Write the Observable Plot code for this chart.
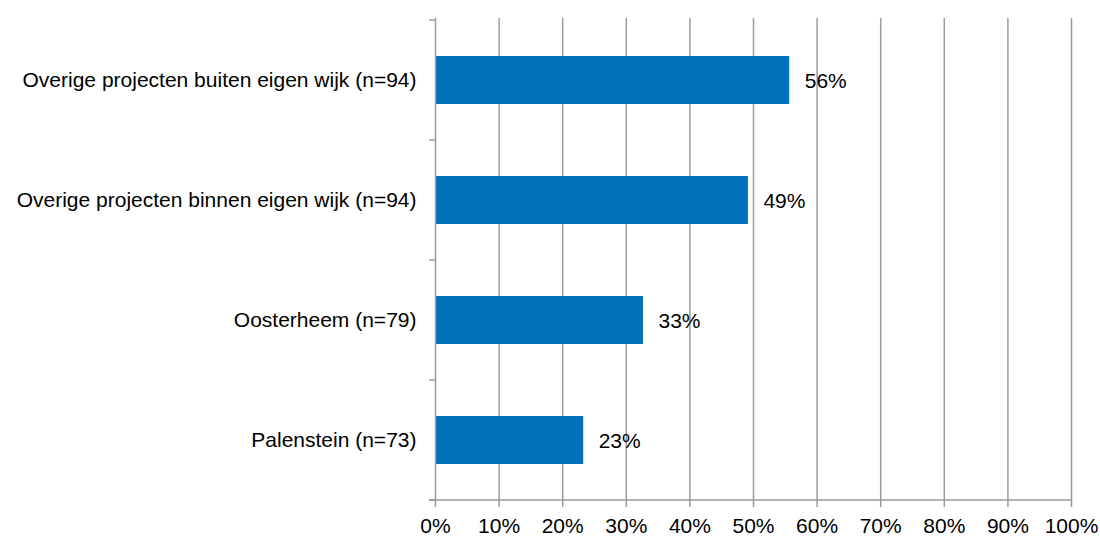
<!DOCTYPE html>
<html>
<head>
<meta charset="utf-8">
<script src="https://cdn.jsdelivr.net/npm/d3@7"></script>
<script src="https://cdn.jsdelivr.net/npm/@observablehq/plot@0.6"></script>
<style>
  html, body { margin: 0; padding: 0; background: #fff; }
  #chart { width: 1100px; height: 536px; }
  svg { font-family: "Liberation Sans", Arial, sans-serif; }
</style>
</head>
<body>
<div id="chart"></div>
<script>
const categories = [
  "Overige projecten buiten eigen wijk (n=94)",
  "Overige projecten binnen eigen wijk (n=94)",
  "Oosterheem (n=79)",
  "Palenstein (n=73)"
];
const values = [55.7, 49.2, 32.7, 23.3];
const valueLabels = ["56%", "49%", "33%", "23%"];
const xTicks = [0, 10, 20, 30, 40, 50, 60, 70, 80, 90, 100];

const data = categories.map((c, i) => ({category: c, value: values[i], label: valueLabels[i]}));

const gridColor = "#9a9a9a";
const barColor = "#0071bb";
const fs = 21;

const chart = Plot.plot({
  width: 1100,
  height: 536,
  marginLeft: 435,
  marginRight: 29,
  marginTop: 18,
  marginBottom: 35,
  style: {fontSize: fs + "px", fontFamily: "'Liberation Sans', Arial, sans-serif", color: "#000", background: "#fff", overflow: "visible"},
  x: {domain: [0, 100], ticks: xTicks},
  y: {domain: categories, paddingInner: 0.6, paddingOuter: 0.3},
  marks: [
    Plot.gridX(xTicks.slice(1), {stroke: gridColor, strokeOpacity: 1, strokeWidth: 1.5}),
    Plot.barX(data, {x: "value", y: "category", fill: barColor}),
    Plot.text(data, {x: "value", y: "category", text: "label", dx: 15, dy: 1, textAnchor: "start", fill: "#000", fontSize: fs}),
    Plot.ruleX([0], {stroke: gridColor, strokeWidth: 1.5}),
    Plot.axisX({ticks: xTicks, tickFormat: d => d + "%", tickSize: 6, tickPadding: 11, stroke: gridColor, strokeWidth: 1.5, strokeOpacity: 1, fill: "#000", label: null, fontSize: fs}),
    Plot.axisY({tickSize: 0, tickPadding: 19, fill: "#000", label: null, fontSize: fs})
  ]
});
document.getElementById("chart").appendChild(chart);

// Bottom axis line and category boundary ticks, positioned from Plot's own scales
const xs = chart.scale("x");
const ys = chart.scale("y");
const svg = d3.select(chart);
const x0 = xs.apply(0), x1 = xs.apply(100);
const step = ys.step, bw = ys.bandwidth;
const bounds = categories.map(c => ys.apply(c) - (step - bw) / 2);
bounds.push(ys.apply(categories[categories.length - 1]) + bw + (step - bw) / 2);
const g = svg.append("g").attr("stroke", gridColor).attr("stroke-width", 1.5);
g.append("line").attr("x1", x0 - 6).attr("x2", x1).attr("y1", bounds[bounds.length - 1]).attr("y2", bounds[bounds.length - 1]);
g.selectAll("line.b").data(bounds).join("line").attr("class", "b")
  .attr("x1", x0 - 6).attr("x2", x0).attr("y1", d => d).attr("y2", d => d);
</script>
</body>
</html>
